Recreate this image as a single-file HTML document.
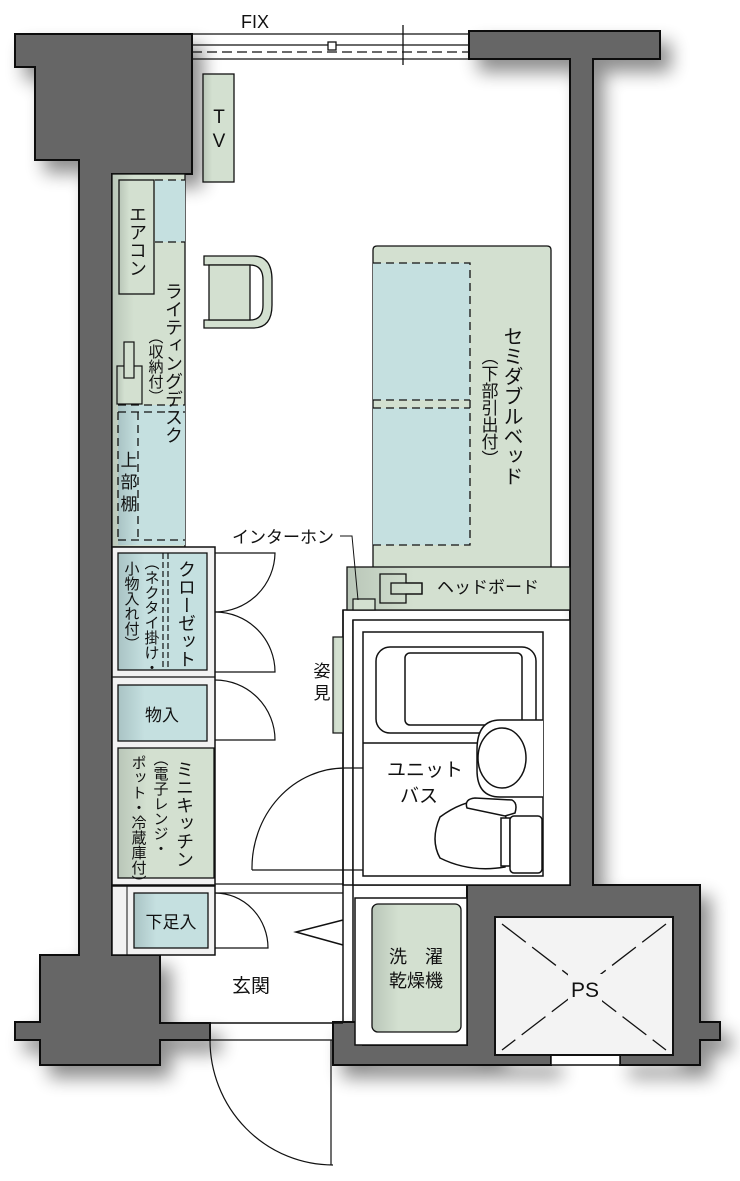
<!DOCTYPE html>
<html><head><meta charset="utf-8"><style>
html,body{margin:0;padding:0;background:#fff;width:740px;height:1181px;overflow:hidden}
svg{display:block}
text{font-family:"Liberation Sans","Noto Sans CJK JP",sans-serif;fill:#111}
.v{writing-mode:vertical-rl;text-orientation:mixed}
</style></head><body>
<svg width="740" height="1181" viewBox="0 0 740 1181" xmlns="http://www.w3.org/2000/svg">
<defs>
<filter id="sh" x="-20%" y="-20%" width="140%" height="140%"><feGaussianBlur in="SourceAlpha" stdDeviation="9"/><feOffset dx="10" dy="12"/><feComponentTransfer><feFuncA type="linear" slope="0.45"/></feComponentTransfer><feMerge><feMergeNode/><feMergeNode in="SourceGraphic"/></feMerge></filter>
<linearGradient id="gg" x1="0" x2="1"><stop offset="0" stop-color="#b9c6b8"/><stop offset="0.3" stop-color="#d3e0d0"/><stop offset="1" stop-color="#d3e0d0"/></linearGradient>
<linearGradient id="bg" x1="0" x2="1"><stop offset="0" stop-color="#a9c3c4"/><stop offset="0.3" stop-color="#c5e0e0"/><stop offset="1" stop-color="#c5e0e0"/></linearGradient>
</defs>
<rect x="343" y="610" width="227" height="275" fill="#fff" stroke="#111" stroke-width="1.5"/>
<g fill="#666" stroke="#111" stroke-width="2" filter="url(#sh)">
<path d="M15,34 H192 V174 H112 V955 H160 V1023 H210 V1040 H160 V1065 H40 V1040 H15 V1022 H40 V955 H79 V174 H79 V160 H35 V67 H15 Z"/>
<path d="M469,31 H660 V59 H593 V885 H700 V1022 H720 V1040 H700 V1065 H620 V1055 H673 V917 H495 V1055 H551 V1065 H333 V1022 H363 V1045 H467 V885 H570 V59 H469 Z"/>
</g>
<rect x="551" y="1055" width="69" height="10" fill="#fff" stroke="#111" stroke-width="1.5"/>
<rect x="495" y="917" width="178" height="138" fill="#f3f3f3" stroke="#111" stroke-width="2"/>
<line x1="502" y1="924" x2="666" y2="1050" stroke="#111" stroke-width="1.3" stroke-dasharray="30,8"/>
<line x1="666" y1="924" x2="502" y2="1050" stroke="#111" stroke-width="1.3" stroke-dasharray="30,8"/>
<rect x="568" y="974" width="34" height="28" fill="#f3f3f3"/>
<text x="585" y="997" font-size="21" text-anchor="middle">PS</text>
<g stroke="#111" stroke-width="1.3" fill="none">
<line x1="192" y1="34" x2="469" y2="34"/><line x1="192" y1="45" x2="469" y2="45"/>
<line x1="192" y1="52" x2="469" y2="52" stroke-dasharray="10,5"/><line x1="192" y1="59" x2="469" y2="59"/>
<line x1="403" y1="25" x2="403" y2="65"/>
<rect x="328" y="42" width="8" height="8" fill="#fff"/>
</g>
<text x="255" y="28" font-size="18" text-anchor="middle">FIX</text>
<rect x="203" y="74" width="31" height="108" fill="url(#gg)" stroke="#111" stroke-width="1.3"/>
<text x="219" y="123" font-size="19" text-anchor="middle">T</text><text x="219" y="147" font-size="19" text-anchor="middle">V</text>
<rect x="112" y="174" width="73" height="373" fill="url(#gg)" stroke="#111" stroke-width="1.3"/>
<rect x="155" y="180" width="30" height="62" fill="#c5e0e0"/>
<rect x="118" y="405" width="67" height="140" fill="url(#bg)"/>
<g stroke="#111" stroke-width="1.3" fill="none" stroke-dasharray="8,5">
<line x1="155" y1="180" x2="185" y2="180"/><line x1="155" y1="242" x2="185" y2="242"/>
<line x1="118" y1="405" x2="185" y2="405"/><line x1="118" y1="412" x2="185" y2="412"/>
<line x1="118" y1="540" x2="185" y2="540"/>
<line x1="118" y1="412" x2="118" y2="540"/><line x1="138" y1="412" x2="138" y2="540"/>
</g>
<rect x="119" y="180" width="35" height="114" fill="url(#gg)" stroke="#111" stroke-width="1.3"/>
<text class="v" x="137" y="205" font-size="18">エアコン</text>
<text class="v" x="173" y="282" font-size="18">ライティングデスク</text>
<text class="v" x="155" y="329" font-size="15">（収納付）</text>
<text x="129" y="466" font-size="17" text-anchor="middle">上</text>
<text x="129" y="488" font-size="17" text-anchor="middle">部</text>
<text x="129" y="510" font-size="17" text-anchor="middle">棚</text>
<rect x="117" y="366" width="25" height="38" fill="url(#gg)" stroke="#111" stroke-width="1.2"/>
<rect x="124" y="342" width="10" height="36" fill="#d3e0d0" stroke="#111" stroke-width="1.2"/>
<path d="M204,256 H253 Q272,256 272,280 V305 Q272,328 253,328 H204 V320 H250 Q263,320 263,305 V280 Q263,265 250,265 H204 Z" fill="#d3e0d0" stroke="#111" stroke-width="1.3"/>
<rect x="209" y="265" width="41" height="55" fill="#d3e0d0" stroke="#111" stroke-width="1.3"/>
<path d="M373,567 V250 Q373,246 377,246 H547 Q551,246 551,250 V567" fill="#d3e0d0" stroke="#111" stroke-width="1.3"/>
<rect x="373" y="263" width="97" height="137" fill="#c5e0e0"/><rect x="373" y="408" width="97" height="137" fill="#c5e0e0"/>
<g stroke="#111" stroke-width="1.3" fill="none" stroke-dasharray="8,5">
<path d="M373,263 H470 V545 H373"/><line x1="373" y1="400" x2="470" y2="400"/><line x1="373" y1="408" x2="470" y2="408"/>
</g>
<text class="v" x="511" y="326" font-size="20">セミダブルベッド</text>
<text class="v" x="488" y="348" font-size="17">（下部引出付）</text>
<rect x="347" y="567" width="223" height="43" fill="url(#gg)" stroke="#111" stroke-width="1.3"/>
<path d="M380,574 H406 V583 H422 V594 H406 V603 H380 Z" fill="none" stroke="#111" stroke-width="1.3"/>
<rect x="391" y="583" width="31" height="11" fill="none" stroke="#111" stroke-width="1.3"/>
<text x="437" y="593" font-size="17">ヘッドボード</text>
<rect x="353" y="599" width="22" height="11" fill="#d3e0d0" stroke="#111" stroke-width="1.2"/>
<polyline points="340,536 352,536 358,600" fill="none" stroke="#111" stroke-width="1"/>
<text x="232" y="543" font-size="17">インターホン</text>
<g stroke="#111" stroke-width="1.5" fill="#fff">
<line x1="343" y1="610" x2="343" y2="1022" fill="none"/>
<line x1="353" y1="620" x2="353" y2="1022" fill="none"/>
<rect x="353" y="620" width="217" height="265"/>
<rect x="363" y="632" width="180" height="244"/>
<rect x="376" y="647" width="160" height="86" rx="14"/>
<rect x="405" y="653" width="117" height="72" rx="5"/>
<line x1="363" y1="743" x2="490" y2="743"/>
<path d="M543,720 H500 Q477,720 477,750 V770 Q477,797 500,797 H543"/>
<ellipse cx="502" cy="758" rx="24" ry="30"/>
<path d="M506,820 Q506,808 495,803 Q470,795 440,817 Q430,840 440,858 Q470,873 505,867 Z"/>
<path d="M467,808 Q464,799 475,798 L512,800 Q518,803 515,813 L505,816 Z"/>
<rect x="501" y="818" width="9" height="48"/>
<rect x="510" y="816" width="32" height="57" rx="4"/>
</g>
<text x="387" y="776" font-size="19">ユニット</text>
<text x="400" y="802" font-size="19">バス</text>
<rect x="333" y="637" width="10" height="96" fill="url(#gg)" stroke="#111" stroke-width="1.2"/>
<text x="322" y="677" font-size="17" text-anchor="middle">姿</text><text x="322" y="699" font-size="17" text-anchor="middle">見</text>
<g stroke="#111" stroke-width="1.2" fill="none">
<path d="M252,870 A93,100 0 0 1 345,768 H363"/><line x1="252" y1="870" x2="363" y2="870"/>
</g>
<rect x="112" y="547" width="103" height="338" fill="#f2f2f2" stroke="#111" stroke-width="1.5"/>
<rect x="118" y="553" width="89" height="117" fill="url(#bg)" stroke="#111" stroke-width="1.3"/>
<g stroke="#111" stroke-width="1.2" stroke-dasharray="6,3"><line x1="163" y1="553" x2="163" y2="670"/><line x1="168" y1="553" x2="168" y2="670"/></g>
<text class="v" x="186" y="560" font-size="18">クローゼット</text>
<text class="v" x="151" y="555" font-size="15">（ネクタイ掛け・</text>
<text class="v" x="131" y="561" font-size="15">小物入れ付）</text>
<line x1="112" y1="677" x2="215" y2="677" stroke="#111" stroke-width="1.3"/>
<rect x="118" y="685" width="89" height="56" fill="url(#bg)" stroke="#111" stroke-width="1.3"/>
<text x="162" y="721" font-size="17" text-anchor="middle">物入</text>
<rect x="118" y="748" width="96" height="130" fill="url(#gg)" stroke="#111" stroke-width="1.3"/>
<text class="v" x="184" y="760" font-size="18">ミニキッチン</text>
<text class="v" x="160" y="751" font-size="15">（電子レンジ・</text>
<text class="v" x="138" y="755" font-size="15">ポット・冷蔵庫付）</text>
<g stroke="#111" stroke-width="1.2" fill="none">
<path d="M215,553 H275 A60,60 0 0 1 215,612"/>
<path d="M215,612 A60,60 0 0 1 275,672 H215"/>
<path d="M215,680 A60,60 0 0 1 275,740 H215"/>
</g>
<g stroke="#111" stroke-width="1.3"><line x1="215" y1="884" x2="343" y2="884"/><line x1="215" y1="893" x2="343" y2="893"/></g>
<rect x="112" y="886" width="103" height="69" fill="#f2f2f2" stroke="#111" stroke-width="1.5"/>
<line x1="127" y1="886" x2="127" y2="955" stroke="#111" stroke-width="1"/>
<rect x="134" y="893" width="74" height="55" fill="url(#bg)" stroke="#111" stroke-width="1.3"/>
<text x="171" y="928" font-size="17" text-anchor="middle">下足入</text>
<path d="M215,893 A53,55 0 0 1 268,948 H215" fill="none" stroke="#111" stroke-width="1.2"/>
<polyline points="343,920 296,932 343,945" fill="none" stroke="#111" stroke-width="1.5"/>
<text x="251" y="992" font-size="19" text-anchor="middle">玄関</text>
<line x1="160" y1="1023" x2="343" y2="1023" stroke="#111" stroke-width="1.5"/>
<g stroke="#111" stroke-width="1.2" fill="none">
<line x1="210" y1="1040" x2="333" y2="1040"/>
<path d="M210,1040 A123,125 0 0 0 333,1165"/><line x1="331" y1="1040" x2="331" y2="1165"/>
</g>
<rect x="355" y="898" width="112" height="147" fill="#fff" stroke="#111" stroke-width="1.5"/>
<rect x="372" y="904" width="89" height="128" rx="6" fill="url(#gg)" stroke="#111" stroke-width="1.3"/>
<text x="416" y="963" font-size="18" text-anchor="middle">洗　濯</text>
<text x="416" y="987" font-size="18" text-anchor="middle">乾燥機</text>
</svg>
</body></html>
